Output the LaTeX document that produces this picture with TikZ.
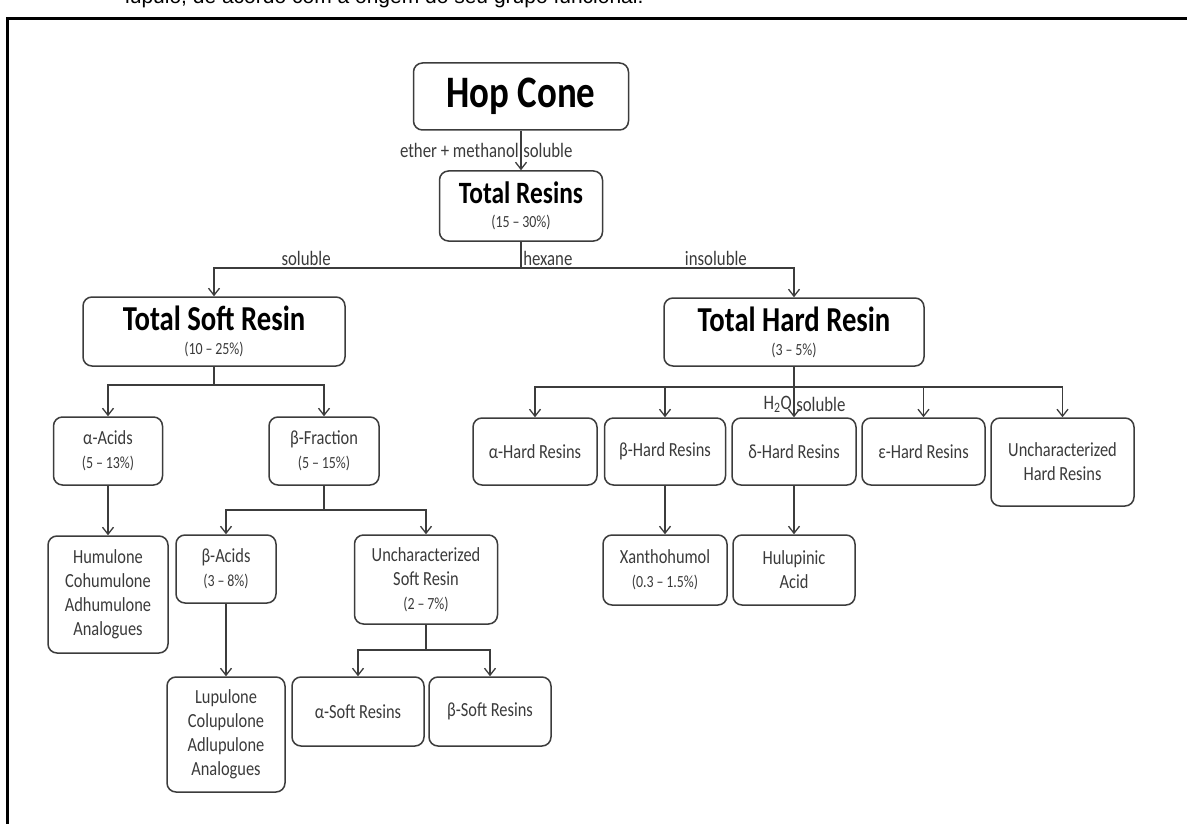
\documentclass[tikz,border=0pt]{standalone}
\usepackage{fontspec}
\setmainfont{Carlito}[FakeStretch=0.82]
\newfontfamily\capfont{Liberation Sans}
\usetikzlibrary{arrows.meta}
\definecolor{linegray}{HTML}{3C3C3C}
\definecolor{txtgray}{HTML}{3A3A3A}
\newcommand{\pcttext}[1]{{\fontsize{17}{26}\selectfont #1}}
\newcommand{\pctsmall}[1]{{\fontsize{17}{23}\selectfont #1}}
\newcommand{\bigtitle}[2]{{\bfseries\color{black}\fontsize{#1}{#1}\selectfont #2}}

\begin{document}
\begin{tikzpicture}[x=1pt, y=-1pt,
  >={Straight Barb[length=7pt,width=11pt,line width=1.3pt]},
  box/.style={draw=linegray, line width=1.5pt, rounded corners=9pt, align=center,
    text=txtgray, font=\fontsize{20}{24}\selectfont, inner sep=2pt},
  link/.style={draw=linegray, line width=1.5pt},
  arr/.style={link, ->},
  lbl/.style={text=txtgray, font=\fontsize{20.5}{24}\selectfont, inner sep=1.5pt}]
  \useasboundingbox (0,0) rectangle (1187,824);
  % Caption and frame
  \begin{scope}
    \clip (0,0) rectangle (1187,824);
    \node[anchor=base west, inner sep=0pt, font=\capfont\fontsize{21}{24}\selectfont] (caption) at (125,4)
      {lúpulo, de acordo com a origem do seu grupo funcional.};
  \end{scope}
  \draw[line width=3pt] (7,830) -- (7,19) -- (1190,19);
  % Top
  \node[box, minimum width=215pt, minimum height=67pt] (hop) at (521,96.5) {\bigtitle{45}{Hop Cone}};
  \node[box, minimum width=163pt, minimum height=70pt] (total) at (521,206)
    {\bigtitle{31}{Total Resins}\\\pcttext{(15\,–\,30\%)}};
  \node[box, minimum width=262pt, minimum height=69pt] (soft) at (214,331.5)
    {\bigtitle{35}{Total Soft Resin}\\\pcttext{(10\,–\,25\%)}};
  \node[box, minimum width=260pt, minimum height=68pt] (hard) at (794,332)
    {\bigtitle{35}{Total Hard Resin}\\\pcttext{(3\,–\,5\%)}};
  % Soft resin side
  \node[box, minimum width=109pt, minimum height=68pt] (aacid) at (108,451) {α-Acids\\\pctsmall{(5\,–\,13\%)}};
  \node[box, minimum width=110pt, minimum height=68pt] (bfrac) at (324,451) {β-Fraction\\\pctsmall{(5\,–\,15\%)}};
  \node[box, minimum width=120pt, minimum height=117pt] (humul) at (108,594.5)
    {Humulone\\Cohumulone\\Adhumulone\\Analogues};
  \node[box, minimum width=100pt, minimum height=68pt] (bacid) at (226,569) {β-Acids\\\pctsmall{(3\,–\,8\%)}};
  \node[box, minimum width=143pt, minimum height=89pt] (usoft) at (426,579.5)
    {Uncharacterized\\Soft Resin\\\pctsmall{(2\,–\,7\%)}};
  \node[box, minimum width=118pt, minimum height=115pt] (lupul) at (226,734.5)
    {Lupulone\\Colupulone\\Adlupulone\\Analogues};
  \node[box, minimum width=132pt, minimum height=69pt] (asoft) at (358,711.5) {α-Soft Resins};
  \node[box, minimum width=122pt, minimum height=69pt] (bsoft) at (490,711.5) {β-Soft Resins};
  % Hard resin side
  \node[box, minimum width=124pt, minimum height=67pt] (ahard) at (535,451.5) {α-Hard Resins};
  \node[box, minimum width=121pt, minimum height=67pt] (bhard) at (665,451.5) {β-Hard Resins};
  \node[box, minimum width=124pt, minimum height=67pt] (dhard) at (794,451.5) {δ-Hard Resins};
  \node[box, minimum width=123pt, minimum height=67pt] (ehard) at (923.5,451.5) {ε-Hard Resins};
  \node[box, minimum width=143pt, minimum height=88pt] (uhard) at (1062.5,462)
    {Uncharacterized\\Hard Resins};
  \node[box, minimum width=124pt, minimum height=70pt] (xanth) at (665,570) {Xanthohumol\\\pctsmall{(0.3\,–\,1.5\%)}};
  \node[box, minimum width=122pt, minimum height=70pt] (hulup) at (794,570) {Hulupinic\\Acid};
  % Junctions
  \coordinate (hx) at (521,268);
  \coordinate (sj) at (214,385);
  \coordinate (fj) at (324,510);
  \coordinate (uj) at (426,650);
  \coordinate (hj) at (794,387);
  % Arrows
  \draw[arr] (hop) -- (total)
    node[lbl, pos=0.5, left] (ether) {ether + methanol}
    node[lbl, pos=0.5, right] (sol1) {soluble};
  \draw[link] (total) -- (hx) node[lbl, pos=1, above right] (hexane) {hexane};
  \draw[arr] (hx) -| (soft) node[lbl, pos=0.35, above] (sol2) {soluble};
  \draw[arr] (hx) -| (hard) node[lbl, pos=0.357, above] (insol) {insoluble};
  \draw[link] (soft) -- (sj);
  \draw[arr] (sj) -| (aacid);
  \draw[arr] (sj) -| (bfrac);
  \draw[arr] (aacid) -- (humul);
  \draw[link] (bfrac) -- (fj);
  \draw[arr] (fj) -| (bacid);
  \draw[arr] (fj) -| (usoft);
  \draw[arr] (bacid) -- (lupul);
  \draw[link] (usoft) -- (uj);
  \draw[arr] (uj) -| (asoft);
  \draw[arr] (uj) -| (bsoft);
  \draw[arr] (hard) -- (dhard)
    node[lbl, pos=0.75, left] (water) {H\textsubscript{2}O}
    node[lbl, pos=0.75, right] (sol3) {soluble};
  \draw[arr] (hj) -| (ahard);
  \draw[arr] (hj) -| (bhard);
  \draw[arr] (hj) -| (ehard);
  \draw[arr] (hj) -| (uhard);
  \draw[arr] (bhard) -- (xanth);
  \draw[arr] (dhard) -- (hulup);
\end{tikzpicture}
\end{document}
